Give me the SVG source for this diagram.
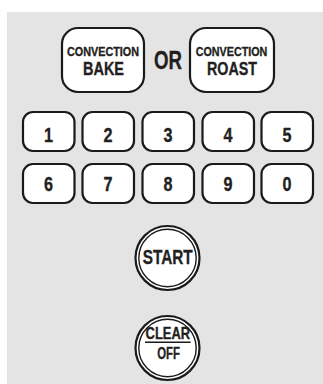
<svg xmlns="http://www.w3.org/2000/svg" width="323" height="384" viewBox="0 0 323 384">
<style>
.btn{fill:#fff;stroke:#1a1a1a;stroke-width:2.2}
.t{font-family:"Liberation Sans",Arial,sans-serif;font-weight:bold;fill:#231f20;stroke:#231f20;stroke-width:0.35;text-anchor:middle}
.ring{fill:#fff;stroke:#1a1a1a;stroke-width:2.2}
.ring2{fill:none;stroke:#1a1a1a;stroke-width:1.4}
</style>
<rect x="7" y="12" width="316" height="372" fill="#e4e4e4"/>
<g id="convection-bake">
<rect class="btn" x="62" y="28" width="82" height="64" rx="16"/>
<text class="t" x="103" y="56" font-size="12.5" textLength="72" lengthAdjust="spacingAndGlyphs">CONVECTION</text>
<text class="t" x="103.5" y="74.5" font-size="17.5" textLength="41" lengthAdjust="spacingAndGlyphs">BAKE</text>
</g>
<g id="or">
<text class="t" x="168" y="68.5" font-size="26.5" textLength="28" lengthAdjust="spacingAndGlyphs">OR</text>
</g>
<g id="convection-roast">
<rect class="btn" x="190" y="28" width="84" height="64" rx="16"/>
<text class="t" x="231.5" y="56" font-size="12.5" textLength="71.5" lengthAdjust="spacingAndGlyphs">CONVECTION</text>
<text class="t" x="232" y="75" font-size="18.5" textLength="50" lengthAdjust="spacingAndGlyphs">ROAST</text>
</g>
<g id="key-1"><rect class="btn" x="23" y="112" width="51.5" height="39" rx="10"/><text class="t" x="48.5" y="141.5" font-size="21" textLength="9" lengthAdjust="spacingAndGlyphs">1</text></g>
<g id="key-2"><rect class="btn" x="82.5" y="112" width="51.5" height="39" rx="10"/><text class="t" x="108" y="141.5" font-size="21" textLength="9" lengthAdjust="spacingAndGlyphs">2</text></g>
<g id="key-3"><rect class="btn" x="142.5" y="112" width="51.5" height="39" rx="10"/><text class="t" x="168" y="141.5" font-size="21" textLength="9" lengthAdjust="spacingAndGlyphs">3</text></g>
<g id="key-4"><rect class="btn" x="202.5" y="112" width="51.5" height="39" rx="10"/><text class="t" x="228" y="141.5" font-size="21" textLength="9" lengthAdjust="spacingAndGlyphs">4</text></g>
<g id="key-5"><rect class="btn" x="261.5" y="112" width="51.5" height="39" rx="10"/><text class="t" x="287" y="141.5" font-size="21" textLength="9" lengthAdjust="spacingAndGlyphs">5</text></g>
<g id="key-6"><rect class="btn" x="23" y="164" width="51.5" height="39" rx="10"/><text class="t" x="48.5" y="190.5" font-size="21" textLength="9" lengthAdjust="spacingAndGlyphs">6</text></g>
<g id="key-7"><rect class="btn" x="82.5" y="164" width="51.5" height="39" rx="10"/><text class="t" x="108" y="190.5" font-size="21" textLength="9" lengthAdjust="spacingAndGlyphs">7</text></g>
<g id="key-8"><rect class="btn" x="142.5" y="164" width="51.5" height="39" rx="10"/><text class="t" x="168" y="190.5" font-size="21" textLength="9" lengthAdjust="spacingAndGlyphs">8</text></g>
<g id="key-9"><rect class="btn" x="202.5" y="164" width="51.5" height="39" rx="10"/><text class="t" x="228" y="190.5" font-size="21" textLength="9" lengthAdjust="spacingAndGlyphs">9</text></g>
<g id="key-0"><rect class="btn" x="261.5" y="164" width="51.5" height="39" rx="10"/><text class="t" x="287" y="190.5" font-size="21" textLength="9" lengthAdjust="spacingAndGlyphs">0</text></g>
<g id="start">
<circle class="ring" cx="167.5" cy="258" r="32"/>
<circle class="ring2" cx="167.5" cy="258" r="28.7"/>
<text class="t" x="167.7" y="263.5" font-size="21" textLength="50" lengthAdjust="spacingAndGlyphs">START</text>
</g>
<g id="clear-off">
<circle class="ring" cx="167.5" cy="348" r="32"/>
<circle class="ring2" cx="167.5" cy="348" r="28.7"/>
<text class="t" x="167.8" y="339" font-size="17" textLength="44.5" lengthAdjust="spacingAndGlyphs">CLEAR</text>
<line x1="145" y1="342.3" x2="190.5" y2="342.3" stroke="#1a1a1a" stroke-width="1.6"/>
<text class="t" x="168.5" y="359" font-size="16.3" textLength="22.7" lengthAdjust="spacingAndGlyphs">OFF</text>
</g>
</svg>
